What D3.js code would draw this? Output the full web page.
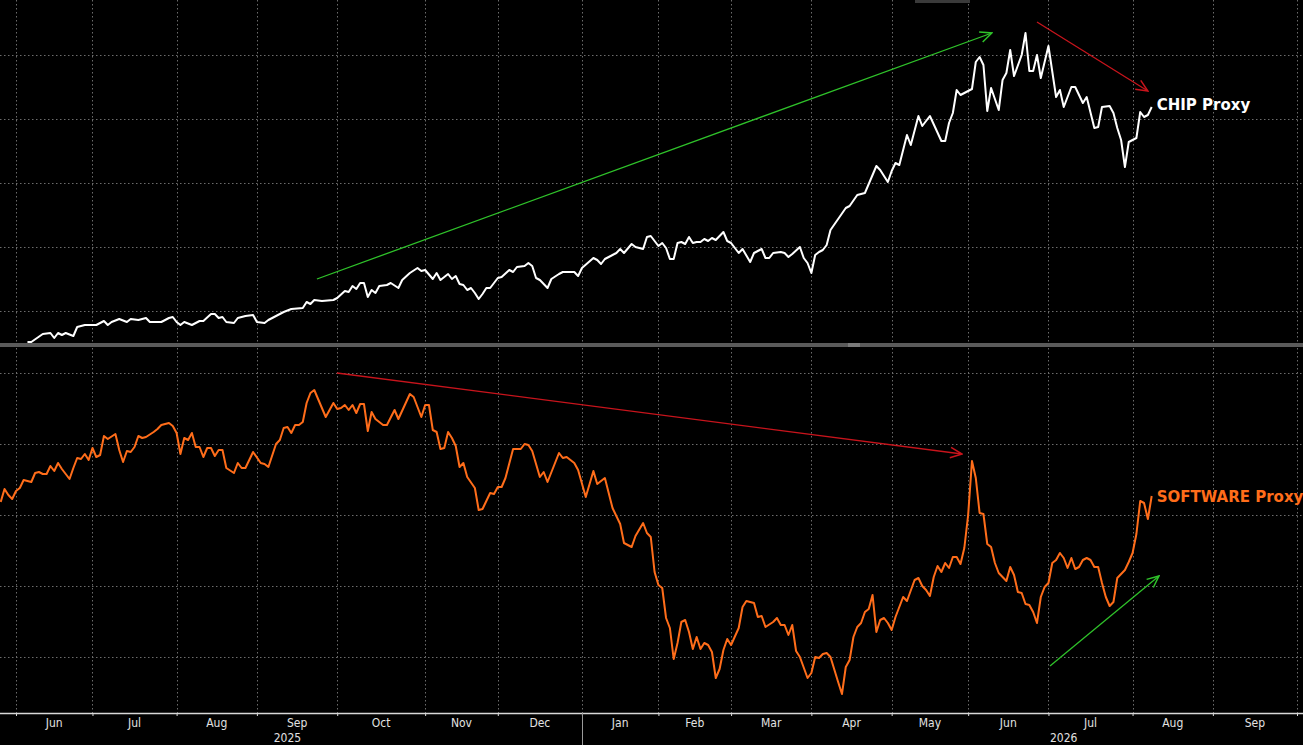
<!DOCTYPE html>
<html>
<head>
<meta charset="utf-8">
<script src="https://cdn.jsdelivr.net/npm/d3@7"></script>
<style>
  body { margin: 0; background: #000; }
  svg { display: block; }
</style>
</head>
<body>
<script>
// trading-day index, 0 = first session of Jun 2025
const monthStarts = [0, 20, 42, 63, 84, 107, 126, 148, 168, 187, 208, 229, 249, 270, 292, 313, 335];
const monthLabels = ["Jun", "Jul", "Aug", "Sep", "Oct", "Nov", "Dec", "Jan", "Feb", "Mar", "Apr", "May", "Jun", "Jul", "Aug", "Sep"];
const yearLabels = [{ year: "2025", day: 71 }, { year: "2026", day: 274 }];
const yearBreak = 148;

const chipGrid = [32, 96, 160, 224, 288];
const softGrid = [56, 127, 198, 269, 340];

// [day, value]
const chipProxy = [[3,1],[4,1],[7,9],[9,10],[10,5],[11,10],[12,8],[13,10],[15,7],[16,16],[18,18],[21,18],[23,22],[24,18],[25,21],[27,24],[29,21],[30,24],[32,23],[34,25],[35,21],[38,21],[40,25],[41,26],[42,21],[43,18],[44,21],[46,18],[48,22],[49,22],[51,29],[52,29],[53,25],[54,26],[55,21],[57,20],[58,25],[60,27],[62,28],[63,21],[65,20],[66,23],[68,27],[70,31],[72,34],[75,35],[76,41],[77,39],[78,43],[80,42],[83,43],[84,45],[86,52],[87,51],[88,57],[89,54],[90,60],[91,60],[92,46],[93,53],[94,50],[95,57],[97,58],[98,60],[100,55],[101,63],[103,70],[105,75],[106,72],[107,73],[109,64],[110,70],[111,63],[113,69],[114,64],[115,67],[116,59],[117,58],[118,53],[119,55],[120,50],[121,44],[122,49],[123,55],[124,55],[126,65],[127,66],[129,73],[130,71],[131,76],[133,77],[134,80],[135,77],[136,65],[137,63],[139,55],[140,64],[142,69],[143,71],[146,71],[147,67],[148,75],[151,85],[152,83],[153,79],[154,84],[155,86],[156,88],[157,90],[158,94],[159,90],[161,99],[162,96],[164,94],[165,106],[166,107],[168,97],[169,100],[170,95],[171,84],[172,84],[173,100],[174,101],[175,99],[176,106],[177,100],[178,101],[179,101],[180,104],[181,102],[182,105],[183,103],[185,111],[186,102],[187,100],[189,90],[190,94],[192,81],[193,90],[195,94],[196,85],[197,85],[198,90],[200,91],[201,90],[202,86],[203,89],[205,96],[206,85],[207,80],[208,70],[209,88],[210,91],[211,93],[212,98],[213,113],[217,135],[218,137],[220,148],[222,150],[225,177],[226,173],[228,161],[229,172],[230,180],[231,178],[233,208],[234,198],[236,227],[237,217],[239,227],[242,202],[243,202],[244,220],[245,230],[246,253],[247,248],[250,254],[251,281],[252,286],[253,278],[254,232],[255,255],[257,233],[258,263],[259,270],[260,293],[261,267],[263,288],[264,310],[265,272],[266,272],[267,288],[268,265],[270,297],[272,246],[273,253],[274,236],[276,256],[277,256],[279,240],[280,246],[282,215],[283,216],[284,236],[286,237],[287,230],[288,215],[289,203],[290,176],[291,201],[293,205],[294,231],[295,226],[296,228],[297,236]];

const softwareProxy = [[-4,211],[-3,224],[-2,218],[-1,214],[0,222],[1,225],[2,233],[4,231],[5,240],[6,241],[7,239],[8,239],[9,247],[10,242],[11,250],[12,244],[14,234],[15,245],[16,255],[17,254],[18,259],[19,253],[20,265],[21,256],[22,258],[23,277],[24,274],[26,279],[27,263],[28,251],[29,262],[30,261],[31,266],[32,277],[33,275],[34,276],[36,281],[37,284],[38,288],[40,290],[41,287],[42,280],[43,259],[44,275],[45,273],[46,280],[47,266],[48,266],[49,256],[50,265],[51,265],[52,257],[53,263],[54,263],[55,245],[57,240],[58,250],[59,245],[60,245],[62,261],[64,250],[65,249],[66,246],[68,269],[69,273],[70,285],[71,286],[72,280],[73,288],[74,288],[75,291],[76,310],[77,320],[78,323],[81,296],[83,310],[84,304],[85,305],[86,308],[87,303],[88,308],[89,300],[90,309],[91,309],[92,282],[93,301],[94,294],[96,288],[97,288],[99,303],[100,294],[103,319],[104,316],[106,296],[107,308],[108,308],[109,283],[110,281],[111,264],[112,265],[113,281],[114,275],[115,267],[116,246],[117,250],[118,236],[120,225],[121,203],[122,204],[124,220],[125,219],[126,226],[127,226],[128,235],[130,264],[132,264],[133,269],[134,268],[135,262],[137,236],[138,241],[139,231],[142,260],[143,255],[144,256],[146,250],[147,243],[149,216],[151,242],[152,229],[154,235],[156,205],[158,189],[159,170],[161,166],[162,177],[164,190],[165,180],[166,176],[167,141],[168,128],[169,125],[170,95],[171,85],[172,54],[173,70],[174,91],[175,93],[176,81],[177,64],[178,76],[179,64],[180,70],[181,68],[182,61],[183,35],[184,44],[185,63],[186,74],[187,68],[189,85],[190,106],[191,112],[193,110],[194,96],[195,97],[196,86],[198,91],[199,95],[200,88],[201,88],[202,78],[203,88],[204,62],[205,56],[207,35],[208,40],[209,56],[210,55],[211,59],[212,60],[213,56],[215,31],[216,19],[217,46],[218,53],[219,76],[220,86],[221,90],[222,101],[223,104],[224,118],[225,81],[226,93],[227,95],[228,90],[229,83],[230,96],[232,116],[233,112],[235,133],[236,135],[237,127],[238,123],[239,117],[240,136],[241,147],[242,141],[243,150],[244,145],[245,156],[246,156],[247,149],[248,165],[249,198],[250,252],[251,235],[252,200],[253,199],[254,169],[255,166],[256,150],[257,140],[259,132],[260,146],[261,138],[262,121],[263,120],[264,109],[265,108],[266,101],[267,90],[268,116],[269,126],[270,130],[271,150],[272,153],[273,160],[274,155],[275,145],[276,155],[277,144],[278,146],[279,153],[280,155],[281,153],[282,146],[283,146],[284,130],[285,116],[286,107],[287,111],[288,135],[290,143],[291,151],[292,160],[293,179],[294,212],[295,210],[296,194],[297,217]];

// trend arrows drawn on the chart, [day, value] -> [day, value]
const chipArrows = [
  { from: [78.7, 64], to: [255.2, 310], color: "#2fc22a" },
  { from: [267, 321], to: [296, 252], color: "#c8141c" }
];
const softArrows = [
  { from: [83.9, 340], to: [247.4, 259], color: "#c8141c" },
  { from: [270.4, 47], to: [298.9, 137], color: "#2fc22a" }
];

const width = 1303;
const height = 745;
const axisY = 713;

const SVG = d3.select("body").append("svg")
  .attr("width", width)
  .attr("height", height)
  .style("background", "#000");

const x = d3.scaleLinear().domain([0, 335]).range([16, 1297]);
const yChip = d3.scaleLinear().domain([0, 343]).range([343, 0]);
const ySoft = d3.scaleLinear().domain([0, 366]).range([axisY, 347]);

// grid
const grid = SVG.append("g")
  .attr("stroke", "#6c6c6c")
  .attr("stroke-width", 1)
  .attr("stroke-dasharray", "1.5,2.5");

grid.selectAll(".vg")
  .data(monthStarts)
  .enter()
  .append("line")
  .attr("x1", d => Math.round(x(d)) + 0.5)
  .attr("x2", d => Math.round(x(d)) + 0.5)
  .attr("y1", 0)
  .attr("y2", axisY);

grid.selectAll(".hc")
  .data(chipGrid)
  .enter()
  .append("line")
  .attr("x1", 0).attr("x2", width)
  .attr("y1", d => Math.round(yChip(d)) + 0.5)
  .attr("y2", d => Math.round(yChip(d)) + 0.5);

grid.selectAll(".hs")
  .data(softGrid)
  .enter()
  .append("line")
  .attr("x1", 0).attr("x2", width)
  .attr("y1", d => Math.round(ySoft(d)) + 0.5)
  .attr("y2", d => Math.round(ySoft(d)) + 0.5);

// panel divider + little handles
SVG.append("rect").attr("x", 0).attr("y", 343).attr("width", width).attr("height", 4).attr("fill", "#5a5a5a");
SVG.append("rect").attr("x", 848).attr("y", 343.5).attr("width", 12).attr("height", 1).attr("fill", "#9a9a9a");
SVG.append("rect").attr("x", 848).attr("y", 345.5).attr("width", 12).attr("height", 1).attr("fill", "#9a9a9a");
SVG.append("rect").attr("x", 915).attr("y", 0).attr("width", 55).attr("height", 3).attr("fill", "#3a3a3a");

// arrows
const defs = SVG.append("defs");
function arrowMarker(id, color) {
  defs.append("marker")
    .attr("id", id)
    .attr("viewBox", "0 0 12 12")
    .attr("refX", 11)
    .attr("refY", 6)
    .attr("markerUnits", "userSpaceOnUse")
    .attr("markerWidth", 14)
    .attr("markerHeight", 14)
    .attr("orient", "auto")
    .append("path")
    .attr("d", "M1,1.5 L11,6 L1,10.5")
    .attr("fill", "none")
    .attr("stroke", color)
    .attr("stroke-width", 1.3);
}
arrowMarker("head-green", "#2fc22a");
arrowMarker("head-red", "#c8141c");

function drawArrows(list, yScale) {
  SVG.append("g").selectAll("line")
    .data(list)
    .enter()
    .append("line")
    .attr("x1", d => x(d.from[0]))
    .attr("y1", d => yScale(d.from[1]))
    .attr("x2", d => x(d.to[0]))
    .attr("y2", d => yScale(d.to[1]))
    .attr("stroke", d => d.color)
    .attr("stroke-width", 1.3)
    .attr("marker-end", d => d.color === "#2fc22a" ? "url(#head-green)" : "url(#head-red)");
}
drawArrows(chipArrows, yChip);
drawArrows(softArrows, ySoft);

// series
const chipLine = d3.line().x(d => x(d[0])).y(d => yChip(d[1]));
const softLine = d3.line().x(d => x(d[0])).y(d => ySoft(d[1]));

SVG.append("path")
  .datum(chipProxy)
  .attr("d", chipLine)
  .attr("fill", "none")
  .attr("stroke", "#ffffff")
  .attr("stroke-width", 2)
  .attr("stroke-linejoin", "round");

SVG.append("path")
  .datum(softwareProxy)
  .attr("d", softLine)
  .attr("fill", "none")
  .attr("stroke", "#ff6d1a")
  .attr("stroke-width", 2)
  .attr("stroke-linejoin", "round");

// series labels
const lastChip = chipProxy[chipProxy.length - 1];
const lastSoft = softwareProxy[softwareProxy.length - 1];

SVG.append("text")
  .attr("x", x(lastChip[0]) + 5)
  .attr("y", yChip(lastChip[1]) - 2)
  .attr("dominant-baseline", "middle")
  .attr("font-family", "DejaVu Sans, sans-serif")
  .attr("font-weight", "bold")
  .attr("font-size", "15px")
  .attr("fill", "#ffffff")
  .text("CHIP Proxy");

SVG.append("text")
  .attr("x", x(lastSoft[0]) + 5)
  .attr("y", ySoft(lastSoft[1]) + 1)
  .attr("dominant-baseline", "middle")
  .attr("font-family", "DejaVu Sans, sans-serif")
  .attr("font-weight", "bold")
  .attr("font-size", "15px")
  .attr("fill", "#ff6d1a")
  .text("SOFTWARE Proxy");

// bottom axis
const axisG = SVG.append("g")
  .attr("transform", `translate(0,${axisY})`)
  .call(d3.axisBottom(x).tickValues(monthStarts).tickSize(3).tickFormat(""));

axisG.select(".domain").remove();
axisG.selectAll(".tick line").attr("stroke", "#d8d8d8");

SVG.append("line")
  .attr("x1", 0).attr("x2", width)
  .attr("y1", axisY + 0.5).attr("y2", axisY + 0.5)
  .attr("stroke", "#d8d8d8")
  .attr("stroke-width", 1.5);

SVG.append("line")
  .attr("x1", Math.round(x(yearBreak)) + 0.5)
  .attr("x2", Math.round(x(yearBreak)) + 0.5)
  .attr("y1", axisY)
  .attr("y2", height)
  .attr("stroke", "#9a9a9a");

SVG.append("g").selectAll("text")
  .data(monthLabels)
  .enter()
  .append("text")
  .attr("x", (d, i) => (x(monthStarts[i]) + x(monthStarts[i + 1])) / 2)
  .attr("y", axisY + 13.5)
  .attr("text-anchor", "middle")
  .attr("font-family", "DejaVu Sans Condensed, DejaVu Sans, sans-serif")
  .attr("font-size", "12px")
  .attr("fill", "#e2e2e2")
  .text(d => d);

SVG.append("g").selectAll("text")
  .data(yearLabels)
  .enter()
  .append("text")
  .attr("x", d => x(d.day))
  .attr("y", axisY + 29)
  .attr("text-anchor", "middle")
  .attr("font-family", "DejaVu Sans Condensed, DejaVu Sans, sans-serif")
  .attr("font-size", "12px")
  .attr("fill", "#e2e2e2")
  .text(d => d.year);
</script>
</body>
</html>
